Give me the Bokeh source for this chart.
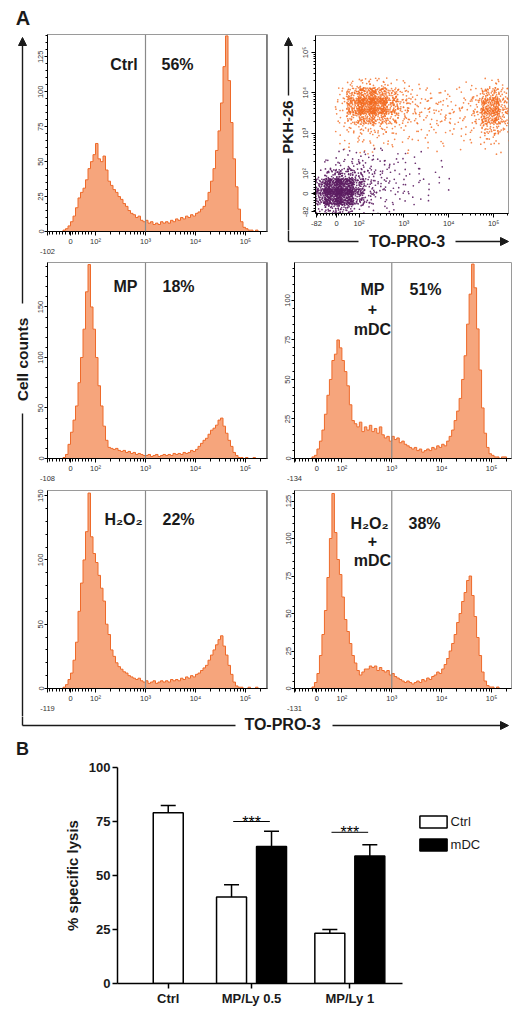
import numpy as np
from bokeh.plotting import figure
from bokeh.layouts import row, column
from bokeh.models import (Range1d, FixedTicker, Span, Label, Arrow, NormalHead,
                          Whisker, TeeHead, ColumnDataSource, Legend, LegendItem)
from bokeh.embed import file_html
from bokeh.resources import INLINE
from bokeh.core.properties import value

FONT = "Liberation Sans"
INK = "#1a1a1a"
HIST_FILL = "#F6A57C"
HIST_LINE = "#EE6A2A"
ORANGE = "#F26A1F"
PURPLE = "#5C1D62"

# ------------------------------------------------------------------ data
# Panel A histograms: counts per bin on the biexponential display scale
# (1.5 = 0, 2 = 10^2, 3 = 10^3, 4 = 10^4, 5 = 10^5)
bin_start = 1.30
bin_width = 0.05
counts_ctrl = [
    0, 1, 2, 4, 7, 11, 17, 24, 28, 31,
    37, 45, 50, 55, 63, 52, 50, 54, 44, 36,
    33, 30, 28, 25, 23, 20, 18, 15, 13, 12,
    10, 11, 8, 7, 8, 6, 7, 5, 6, 5,
    7, 6, 7, 6, 8, 7, 9, 8, 10, 9,
    11, 10, 12, 11, 13, 14, 16, 18, 22, 28,
    36, 45, 58, 72, 92, 118, 140, 108, 78, 52,
    32, 16, 7, 3, 2, 1, 1, 0, 1, 0]
counts_mp = [
    0, 1, 4, 14, 26, 38, 52, 75, 100, 128,
    165, 192, 150, 128, 100, 72, 52, 32, 18, 11,
    10, 9, 10, 8, 7, 8, 6, 7, 5, 6,
    4, 5, 4, 3, 3, 4, 2, 3, 4, 2,
    3, 4, 3, 4, 3, 5, 4, 5, 4, 6,
    5, 6, 8, 7, 9, 12, 15, 18, 20, 24,
    28, 30, 33, 38, 40, 32, 25, 18, 12, 6,
    3, 1, 1, 0, 1, 0, 0, 1, 0, 0]
counts_mp_mdc = [
    0, 0, 1, 2, 6, 11, 18, 28, 40, 50,
    62, 66, 75, 70, 62, 55, 46, 34, 24, 22,
    20, 23, 17, 20, 18, 21, 17, 19, 16, 20,
    15, 13, 14, 11, 14, 12, 13, 10, 11, 9,
    8, 7, 6, 7, 5, 6, 4, 5, 6, 5,
    7, 6, 8, 7, 9, 8, 11, 14, 18, 24,
    30, 38, 50, 65, 85, 104, 123, 108, 82, 56,
    32, 16, 7, 3, 2, 1, 1, 0, 1, 1]
counts_h2o2 = [
    0, 1, 3, 7, 12, 22, 36, 60, 82, 100,
    122, 152, 118, 105, 98, 88, 78, 68, 50, 42,
    30, 25, 20, 17, 15, 13, 12, 10, 9, 8,
    7, 8, 6, 5, 6, 4, 5, 6, 4, 5,
    6, 5, 6, 5, 7, 6, 7, 6, 8, 7,
    9, 8, 10, 9, 11, 12, 14, 16, 18, 22,
    26, 30, 34, 38, 41, 33, 26, 18, 11, 5,
    2, 1, 1, 0, 0, 1, 0, 0, 1, 0]
counts_h2o2_mdc = [
    0, 0, 1, 4, 10, 22, 36, 52, 74, 100,
    130, 104, 86, 76, 61, 46, 38, 30, 22, 17,
    12, 9, 11, 13, 13, 15, 14, 15, 12, 14,
    12, 11, 12, 9, 10, 8, 7, 6, 5, 4,
    5, 4, 3, 4, 5, 4, 6, 5, 7, 6,
    8, 9, 11, 10, 13, 16, 20, 25, 30, 36,
    44, 50, 58, 64, 72, 75, 62, 48, 34, 22,
    11, 5, 2, 1, 1, 0, 1, 0, 0, 0]

hist_pct = ["56%", "18%", "51%", "22%", "38%"]
hist_neg = ["-102", "-108", "-134", "-119", "-131"]
hist_ymax = [141, 194, 124, 154, 132]
yticks_25 = [0, 25, 50, 75, 100, 125]
yticks_50 = [0, 50, 100, 150]

x_tick_pos = [1.5, 2.0, 3.0, 4.0, 5.0]
x_tick_txt = ["0", "10\u00b2", "10\u00b3", "10\u2074", "10\u2075"]
sc_tick_pos = [1.05, 1.5, 2.0, 3.0, 4.0, 5.0]
sc_tick_txt = ["-82", "0", "10\u00b2", "10\u00b3", "10\u2074", "10\u2075"]

# Dot plot (TO-PRO-3 vs PKH-26): events per 0.25 x 0.25 display cell, rows top -> bottom
orange_origin = (1.55, 2.55)
orange_cells = [
    [3, 12, 18, 14, 8, 4, 2, 1, 1, 1, 1, 1, 2, 8, 4],
    [10, 60, 95, 85, 45, 18, 7, 5, 4, 3, 3, 4, 12, 55, 28],
    [12, 85, 130, 120, 60, 25, 10, 7, 6, 6, 5, 6, 18, 95, 45],
    [8, 45, 70, 60, 35, 15, 8, 7, 6, 7, 6, 7, 15, 85, 40],
    [4, 10, 14, 12, 9, 6, 4, 3, 5, 4, 3, 3, 6, 35, 14],
    [3, 5, 6, 5, 4, 3, 2, 2, 3, 2, 2, 2, 3, 12, 5],
    [2, 3, 4, 3, 2, 2, 2, 1, 2, 1, 1, 1, 1, 4, 2]]
purple_origin = (1.05, 1.05)
purple_cells = [
    [0, 2, 4, 5, 5, 4, 3, 2, 2, 1, 1, 0],
    [1, 6, 10, 10, 8, 6, 5, 3, 2, 1, 1, 1],
    [10, 40, 50, 30, 14, 8, 5, 4, 2, 2, 1, 1],
    [70, 160, 160, 70, 18, 9, 6, 4, 3, 2, 1, 1],
    [80, 160, 160, 60, 14, 7, 5, 3, 2, 1, 1, 1],
    [15, 45, 45, 15, 5, 3, 2, 2, 1, 1, 1, 0]]
cell_size = 0.25

# Panel B: % specific lysis
groups = ["Ctrl", "MP/Ly 0.5", "MP/Ly 1"]
group_x = [1.0, 2.0, 3.18]
lysis_ctrl = [79.0, 40.0, 23.3]
lysis_ctrl_sem = [3.4, 5.7, 1.7]
lysis_mdc = [None, 63.4, 59.0]
lysis_mdc_sem = [None, 7.1, 5.2]
sig_level = [None, 75.0, 70.0]
sig_mark = "***"

# ------------------------------------------------------------------ helpers
def frame_fig(fig_box, frame_box, xr, yr, axes=True):
    fl, ft, fw, fh = fig_box
    L, T, W, H = frame_box
    kw = {}
    if not axes:
        kw = dict(x_axis_location=None, y_axis_location=None)
    p = figure(width=fw, height=fh, x_range=Range1d(*xr), y_range=Range1d(*yr),
               output_backend="svg", toolbar_location=None,
               min_border_left=L - fl, min_border_right=fl + fw - L - W,
               min_border_top=T - ft, min_border_bottom=ft + fh - T - H, **kw)
    try:
        p.frame_align = False
    except AttributeError:
        pass
    p.grid.visible = False
    p.background_fill_color = "white"
    p.border_fill_color = "white"

    def at(px, py):
        return (xr[0] + (px - L) / W * (xr[1] - xr[0]),
                yr[1] - (py - T) / H * (yr[1] - yr[0]))
    return p, at


def put(p, at, text, px, py, size, style="bold", angle=0.0, color=INK):
    x, y = at(px, py)
    p.add_layout(Label(x=x, y=y, text=text, text_font=FONT, text_font_size=size,
                       text_font_style=style, text_align="center",
                       text_baseline="middle", text_color=color, angle=angle))


def strip(fig_box):
    fl, ft, fw, fh = fig_box
    p, at = frame_fig(fig_box, fig_box, (fl, fl + fw), (ft + fh, ft), axes=False)
    p.outline_line_color = None
    p.min_border = 0
    return p, at


def style_axis(ax, ticks, labels, minor, orient=None, size="7.5px",
               tick_out=4, minor_out=2, standoff=1):
    ax.ticker = FixedTicker(ticks=ticks, minor_ticks=minor)
    ax.major_label_overrides = {float(t): l for t, l in zip(ticks, labels)}
    ax.major_label_text_font = FONT
    ax.major_label_text_font_size = size
    ax.major_label_text_color = "#333333"
    ax.major_tick_out = tick_out
    ax.major_tick_in = 0
    ax.minor_tick_out = minor_out
    ax.minor_tick_in = 0
    ax.major_label_standoff = standoff
    ax.axis_line_color = "black"
    ax.major_tick_line_color = "black"
    ax.minor_tick_line_color = "black"
    if orient:
        ax.major_label_orientation = orient


log_minor = [d + np.log10(k) for d in (2, 3, 4) for k in range(2, 10)] + [5 + np.log10(2)]
lin_minor = [v for v in np.arange(1.08, 1.98, 0.065) if abs(v - 1.5) > 0.02]
x_minor = lin_minor + log_minor


def histogram(counts, fig_box, frame_box, xr, ymax, yticks, yminor, texts,
              neg, pct, pct_px, thick_right):
    p, at = frame_fig(fig_box, frame_box, xr, (0, ymax))
    xs, ys = [], []
    for i, c in enumerate(counts):
        lft = bin_start + i * bin_width
        xs += [lft, lft + bin_width]
        ys += [c, c]
    xs = [xs[0]] + xs + [xs[-1]]
    ys = [0] + ys + [0]
    p.patch(xs, ys, fill_color=HIST_FILL, line_color=None)
    p.line(xs, ys, line_color=HIST_LINE, line_width=1)
    p.outline_line_color = "#9a9a9a"
    p.add_layout(Span(location=3.0, dimension="height", line_color="#8a8a8a", line_width=1.2))
    if thick_right:
        p.add_layout(Span(location=xr[1], dimension="height", line_color="#7d7d7d", line_width=3))
    # lowest channel value written on a second line under the left edge
    style_axis(p.xaxis[0], [xr[0]] + x_tick_pos, ["\n" + neg] + x_tick_txt, x_minor,
               tick_out=4, minor_out=3)
    style_axis(p.yaxis[0], yticks, [str(t) for t in yticks], yminor,
               orient="vertical", tick_out=3, minor_out=2)
    for t, px, py in texts:
        put(p, at, t, px, py, "16px")
    put(p, at, pct, pct_px[0], pct_px[1], "16px")
    return p


LEFT_X = (1.04, 5.44)
RIGHT_X = (1.05, 5.40)
minor5 = lambda top: [v for v in range(5, top, 5) if v % 25]
minor10 = lambda top: [v for v in range(10, top, 10) if v % 50]

h_ctrl = histogram(counts_ctrl, (32, 0, 238, 259), (47, 34, 220, 201), LEFT_X,
                   hist_ymax[0], yticks_25, minor5(141),
                   [("Ctrl", 123.5, 65)], hist_neg[0], hist_pct[0], (177, 65), True)
h_mp = histogram(counts_mp, (32, 259, 238, 227), (47, 262, 220, 199), LEFT_X,
                 hist_ymax[1], yticks_50, minor10(194),
                 [("MP", 125, 286)], hist_neg[1], hist_pct[1], (178, 286), True)
h_mp_mdc = histogram(counts_mp_mdc, (270, 259, 243, 227), (294, 262, 217, 199), RIGHT_X,
                     hist_ymax[2], yticks_25[:5], minor5(124),
                     [("MP", 372, 289), ("+", 372, 309), ("mDC", 372, 330)],
                     hist_neg[2], hist_pct[2], (425, 289), False)
h_h2 = histogram(counts_h2o2, (32, 486, 238, 230), (47, 490, 220, 200), LEFT_X,
                 hist_ymax[3], yticks_50, minor10(154),
                 [("H\u2082O\u2082", 123, 519)], hist_neg[3], hist_pct[3], (178, 519), True)
h_h2_mdc = histogram(counts_h2o2_mdc, (270, 486, 243, 230), (294, 490, 217, 200), RIGHT_X,
                     hist_ymax[4], yticks_25, minor5(132),
                     [("H\u2082O\u2082", 369, 523), ("+", 372, 541), ("mDC", 372, 561)],
                     hist_neg[4], hist_pct[4], (424, 523), False)

# ---- dot plot
def halton(i, b):
    f, r = 1.0, 0.0
    while i > 0:
        f /= b
        r += f * (i % b)
        i //= b
    return r


def cells_to_events(cells, origin, spread=1.6):
    """Spread each cell's event count evenly (low-discrepancy) over its cell."""
    xs, ys, k = [], [], 1
    pad = (spread - 1.0) / 2
    for j, rw in enumerate(cells[::-1]):
        for i, n in enumerate(rw):
            for _ in range(n):
                xs.append(origin[0] + (i - pad + spread * halton(k, 2)) * cell_size)
                ys.append(origin[1] + (j - pad + spread * halton(k, 3)) * cell_size)
                k += 1
    return xs, ys


sc, sc_at = frame_fig((298, 0, 215, 230), (313, 35, 195, 178), (1.03, 5.33), (1.01, 5.42))
ox, oy = cells_to_events(orange_cells, orange_origin)
px_, py_ = cells_to_events(purple_cells, purple_origin)
sc.scatter(ox, oy, size=1.7, fill_color=ORANGE, fill_alpha=0.8, line_color=None)
sc.scatter(px_, py_, size=1.7, fill_color=PURPLE, fill_alpha=0.9, line_color=None)
sc.outline_line_color = "#9a9a9a"
style_axis(sc.xaxis[0], sc_tick_pos, sc_tick_txt, x_minor, tick_out=4, minor_out=2)
style_axis(sc.yaxis[0], sc_tick_pos, sc_tick_txt, x_minor, orient="vertical",
           tick_out=4, minor_out=2)

# ---- decorative strips (arrows, axis titles, panel letters)
ARW = dict(line_color=INK, line_width=1.4)


def head():
    return NormalHead(size=8, fill_color=INK, line_color=INK, line_width=1)


left_strip, la = strip((0, 0, 32, 716))
left_strip.add_layout(Arrow(end=head(), x_start=22, y_start=303, x_end=22, y_end=37, **ARW))
left_strip.segment(22, 413, 22, 718, **ARW)
put(left_strip, la, "Cell counts", 22, 359, "15.5px", angle=np.pi / 2)
put(left_strip, la, "A", 22.5, 17.5, "20px")

pkh_strip, pa = strip((270, 0, 28, 230))
pkh_strip.add_layout(Arrow(end=head(), x_start=288, y_start=95, x_end=288, y_end=37, **ARW))
pkh_strip.segment(288, 158, 288, 232, **ARW)
put(pkh_strip, pa, "PKH-26", 286.5, 126.5, "15px", angle=np.pi / 2)

topro_strip, ta = strip((270, 230, 243, 29))
topro_strip.segment(288, 228, 288, 241, **ARW)
topro_strip.segment(288, 241, 358, 241, **ARW)
topro_strip.add_layout(Arrow(end=head(), x_start=455, y_start=241, x_end=508, y_end=241, **ARW))
put(topro_strip, ta, "TO-PRO-3", 406.5, 240.5, "16px")

bottom_strip, ba = strip((0, 716, 513, 43))
bottom_strip.segment(22, 714, 22, 725, **ARW)
bottom_strip.segment(22, 725, 235, 725, **ARW)
bottom_strip.add_layout(Arrow(end=head(), x_start=332, y_start=725, x_end=508, y_end=725, **ARW))
put(bottom_strip, ba, "TO-PRO-3", 282, 724, "16px")
put(bottom_strip, ba, "B", 22, 748, "18px")

# ---- Panel B (frame extends right so that the legend sits inside it)
BAR_W = 0.36
PAIR = 0.24
XB = (0.391, 0.391 + 396 / 83.3)
pb, pba = frame_fig((0, 759, 513, 249), (117, 767, 396, 216), XB, (0, 100))
pb.outline_line_color = None
wx = [gx - PAIR if m is not None else gx for gx, m in zip(group_x, lysis_mdc)]
bx = [gx + PAIR for gx, m in zip(group_x, lysis_mdc) if m is not None]
bm = [m for m in lysis_mdc if m is not None]
bs = [s for s in lysis_mdc_sem if s is not None]

r_white = pb.vbar(x=wx, top=lysis_ctrl, width=BAR_W, fill_color="white",
                  line_color="black", line_width=1.5)
r_black = pb.vbar(x=bx, top=bm, width=BAR_W, fill_color="black",
                  line_color="black", line_width=1.5)
for xs_, ms, ss in ((wx, lysis_ctrl, lysis_ctrl_sem), (bx, bm, bs)):
    src = ColumnDataSource(dict(x=xs_, lo=ms, hi=[m + s for m, s in zip(ms, ss)]))
    pb.add_layout(Whisker(source=src, base="x", lower="lo", upper="hi",
                          line_color="black", line_width=1.5,
                          upper_head=TeeHead(size=15, line_color="black", line_width=1.5),
                          lower_head=None))
sx = [gx for gx, s in zip(group_x, sig_level) if s is not None]
sy = [s for s in sig_level if s is not None]
pb.segment(x0=[x - 0.22 for x in sx], y0=sy, x1=[x + 0.22 for x in sx], y1=sy,
           line_color="black", line_width=1)
pb.text(x=sx, y=[y - 0.3 for y in sy], text=[sig_mark] * len(sx), text_align="center",
        text_baseline="alphabetic", text_font=value(FONT), text_font_size="16px",
        text_color="black")

ya = pb.yaxis[0]
ya.ticker = FixedTicker(ticks=[0, 25, 50, 75, 100], minor_ticks=[])
ya.axis_label = "% specific lysis"
ya.axis_label_text_font = FONT
ya.axis_label_text_font_size = "15px"
ya.axis_label_text_font_style = "bold"
ya.axis_label_text_color = INK
ya.axis_label_standoff = 5
xa = pb.xaxis[0]
xa.ticker = FixedTicker(ticks=group_x, minor_ticks=[])
xa.major_label_overrides = {float(x): g for x, g in zip(group_x, groups)}
xa.bounds = (XB[0], 3.812)
for ax in (xa, ya):
    ax.major_label_text_font = FONT
    ax.major_label_text_font_size = "13px"
    ax.major_label_text_font_style = "bold"
    ax.major_label_text_color = INK
    ax.major_tick_out = 5
    ax.major_tick_in = 0
    ax.major_label_standoff = 2
    ax.axis_line_width = 1.5
    ax.major_tick_line_width = 1.5
    ax.axis_line_color = "black"

legend = Legend(items=[LegendItem(label="Ctrl", renderers=[r_white]),
                       LegendItem(label="mDC", renderers=[r_black])],
                location=(298.6, 131.5), glyph_width=34, glyph_height=15,
                label_height=15, spacing=8, padding=0, margin=0, label_standoff=1,
                border_line_color=None, background_fill_alpha=0,
                label_text_font=FONT, label_text_font_size="13px",
                label_text_color=INK)
pb.add_layout(legend)

# ------------------------------------------------------------------ layout
right_top = column(row(pkh_strip, sc, spacing=0), topro_strip, spacing=0)
grid_a = column(row(h_ctrl, right_top, spacing=0),
                row(h_mp, h_mp_mdc, spacing=0),
                row(h_h2, h_h2_mdc, spacing=0), spacing=0)
panel_a = row(left_strip, grid_a, spacing=0)
page = column(panel_a, bottom_strip, pb, spacing=0)

open("out.html", "w").write(file_html(page, INLINE))
